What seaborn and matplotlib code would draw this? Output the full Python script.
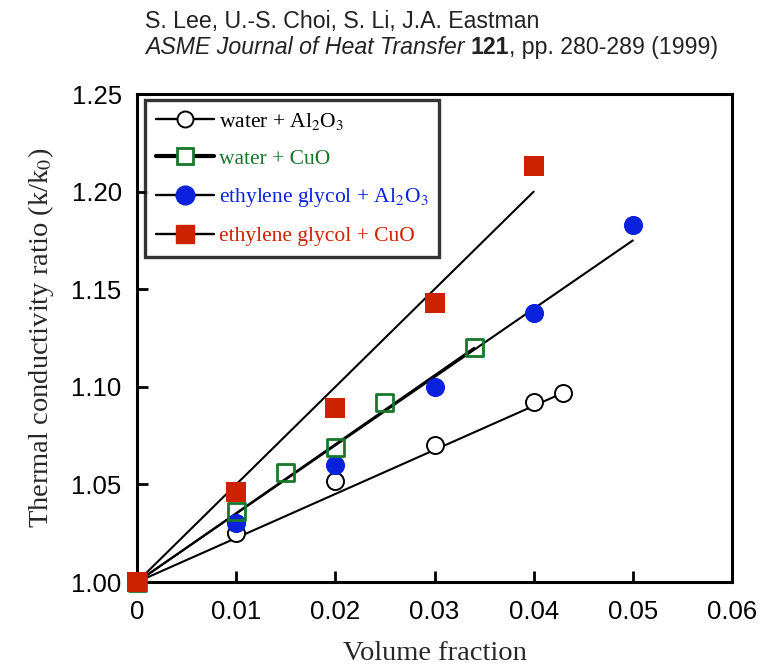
import matplotlib
matplotlib.use("Agg")
import matplotlib.pyplot as plt
import seaborn as sns
from matplotlib.lines import Line2D

# ---------------- data ----------------
wa_x = [0.0, 0.01, 0.02, 0.03, 0.04, 0.043]
wa_y = [1.000, 1.025, 1.052, 1.070, 1.092, 1.097]

wc_x = [0.0, 0.01, 0.015, 0.02, 0.025, 0.034]
wc_y = [1.000, 1.036, 1.056, 1.069, 1.092, 1.120]

ea_x = [0.0, 0.01, 0.02, 0.03, 0.04, 0.05]
ea_y = [1.000, 1.030, 1.060, 1.100, 1.138, 1.183]

ec_x = [0.0, 0.01, 0.02, 0.03, 0.04]
ec_y = [1.000, 1.046, 1.089, 1.143, 1.213]

# fitted lines (start, end)
fit_wa_x = [0.0, 0.043]
fit_wa_y = [1.000, 1.097]
fit_wc_x = [0.0, 0.034]
fit_wc_y = [1.000, 1.120]
fit_ea_x = [0.0, 0.05]
fit_ea_y = [1.000, 1.175]
fit_ec_x = [0.0, 0.04]
fit_ec_y = [1.000, 1.200]

labels = ["water + Al$_2$O$_3$", "water + CuO",
          "ethylene glycol + Al$_2$O$_3$", "ethylene glycol + CuO"]

x_ticks = [0, 0.01, 0.02, 0.03, 0.04, 0.05, 0.06]
x_ticklabels = ["0", "0.01", "0.02", "0.03", "0.04", "0.05", "0.06"]
y_ticks = [1.00, 1.05, 1.10, 1.15, 1.20, 1.25]
y_ticklabels = ["1.00", "1.05", "1.10", "1.15", "1.20", "1.25"]

# ---------------- style ----------------
sns.set_theme(style="white")
plt.rcParams["font.family"] = ["Liberation Sans", "DejaVu Sans"]
plt.rcParams["mathtext.fontset"] = "stix"

RED = "#cc2200"
BLUE = "#0a22dd"
GREEN = "#17782a"
BLACK = "black"

fig = plt.figure(figsize=(7.75, 6.67), dpi=100)
ax = fig.add_axes([0.1768, 0.1274, 0.7677, 0.7316])

# fit lines
for fx, fy in [(fit_wa_x, fit_wa_y), (fit_wc_x, fit_wc_y),
               (fit_ea_x, fit_ea_y), (fit_ec_x, fit_ec_y)]:
    sns.lineplot(x=fx, y=fy, ax=ax, color=BLACK, lw=1.5, zorder=2)

# data points
sns.scatterplot(x=wa_x, y=wa_y, ax=ax, marker="o", s=150, facecolor="white",
                edgecolor=BLACK, linewidth=1.4, zorder=3, clip_on=False)
sns.scatterplot(x=ea_x, y=ea_y, ax=ax, marker="o", s=190, color=BLUE,
                edgecolor=BLUE, linewidth=0, zorder=4, clip_on=False)
sns.scatterplot(x=wc_x, y=wc_y, ax=ax, marker="s", s=150, facecolor="none",
                edgecolor=GREEN, linewidth=2.0, zorder=5, clip_on=False)
sns.scatterplot(x=ec_x, y=ec_y, ax=ax, marker="s", s=200, color=RED,
                edgecolor=RED, linewidth=0, zorder=6, clip_on=False)

ax.set_xlim(0, 0.06)
ax.set_ylim(1.0, 1.25)
ax.set_xticks(x_ticks)
ax.set_xticklabels(x_ticklabels)
ax.set_yticks(y_ticks)
ax.set_yticklabels(y_ticklabels)
ax.tick_params(axis="both", which="major", direction="in", length=8, width=2.0,
               labelsize=18.5, colors=BLACK, bottom=True, left=True,
               top=False, right=False)
ax.tick_params(axis="x", pad=13)
ax.tick_params(axis="y", pad=11)
for sp in ax.spines.values():
    sp.set_visible(True)
    sp.set_linewidth(2.2)
    sp.set_color(BLACK)

serif = ["Liberation Serif", "DejaVu Serif"]
ax.set_xlabel("Volume fraction", fontsize=20.5, family=serif, labelpad=12)
ax.set_ylabel("Thermal conductivity ratio (k/k$_0$)", fontsize=20.5,
              family=serif, labelpad=11)

# legend
handles = [
    Line2D([0], [0], color=BLACK, lw=1.7, marker="o", markersize=11.5,
           markerfacecolor="white", markeredgecolor=BLACK, markeredgewidth=1.4),
    Line2D([0], [0], color=BLACK, lw=3.0, marker="s", markersize=12,
           markerfacecolor="white", markeredgecolor=GREEN, markeredgewidth=2.0),
    Line2D([0], [0], color=BLACK, lw=1.7, marker="o", markersize=13.5,
           markerfacecolor=BLUE, markeredgecolor=BLUE),
    Line2D([0], [0], color=BLACK, lw=1.7, marker="s", markersize=13.5,
           markerfacecolor=RED, markeredgecolor=RED),
]
leg = ax.legend(handles, labels, loc="upper left", bbox_to_anchor=(0.013, 0.988),
                frameon=True, fancybox=False, handlelength=2.7, handletextpad=0.25,
                labelspacing=0.8, borderpad=0.5, borderaxespad=0,
                prop={"family": serif, "size": 15.5})
leg.get_frame().set_edgecolor(BLACK)
leg.get_frame().set_linewidth(2.4)
for t, c in zip(leg.get_texts(), [BLACK, GREEN, BLUE, RED]):
    t.set_color(c)

# header
HS = 16.7
fig.text(0.187, 0.9685, "S. Lee, U.-S. Choi, S. Li, J.A. Eastman", fontsize=HS,
         ha="left", va="center", color="#222222")
t1 = fig.text(0.187, 0.9295, "ASME Journal of Heat Transfer ", fontsize=HS,
              style="italic", ha="left", va="center", color="#222222")
fig.canvas.draw()
bb = t1.get_window_extent()
x1 = bb.x1 / fig.bbox.width
t2 = fig.text(x1, 0.9295, "121", fontsize=HS, weight="bold", ha="left",
              va="center", color="#222222")
fig.canvas.draw()
bb2 = t2.get_window_extent()
x2 = bb2.x1 / fig.bbox.width
fig.text(x2, 0.9295, ", pp. 280-289 (1999)", fontsize=HS, ha="left",
         va="center", color="#222222")

fig.savefig("out.png", dpi=100)
